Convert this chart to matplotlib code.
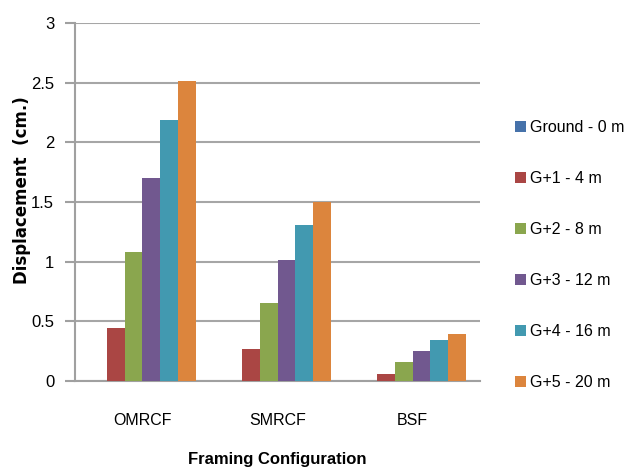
import matplotlib.pyplot as plt
import numpy as np

plt.rcParams['font.family'] = ['Liberation Sans', 'DejaVu Sans']

categories = ['OMRCF', 'SMRCF', 'BSF']
series_labels = ['Ground - 0 m', 'G+1 - 4 m', 'G+2 - 8 m',
                 'G+3 - 12 m', 'G+4 - 16 m', 'G+5 - 20 m']
ground = [0.0, 0.0, 0.0]
g1 = [0.44, 0.27, 0.06]
g2 = [1.08, 0.65, 0.16]
g3 = [1.70, 1.01, 0.25]
g4 = [2.19, 1.31, 0.34]
g5 = [2.51, 1.50, 0.39]
yticks = [0, 0.5, 1, 1.5, 2, 2.5, 3]
ytick_labels = ['0', '0.5', '1', '1.5', '2', '2.5', '3']

colors = ['#4672AA', '#AA4644', '#8AA64E', '#71588F', '#4299B0', '#DC853D']
series = [ground, g1, g2, g3, g4, g5]

fig = plt.figure(figsize=(6.27, 4.73), dpi=100)
ax = fig.add_axes([0.1196, 0.1945, 0.6460, 0.7569])

x = np.arange(len(categories))
width = 0.1327
for i, (vals, lab, col) in enumerate(zip(series, series_labels, colors)):
    ax.bar(x + (i - 2.5) * width, vals, width, color=col, label=lab,
           edgecolor='none', zorder=3)

ax.set_xlim(-0.5, 2.5)
ax.set_ylim(0, 3)
ax.set_yticks(yticks)
ax.set_yticklabels(ytick_labels, fontsize=12)
ax.set_xticks(x)
ax.set_xticklabels(categories, fontsize=11.5)
ax.tick_params(axis='x', length=0, pad=23)
ax.tick_params(axis='y', length=7, color='#a0a0a0', width=1.5, pad=8)
ax.grid(axis='y', color='#a6a6a6', linewidth=1.5, zorder=0)

for side in ['top', 'right']:
    ax.spines[side].set_visible(False)
for side in ['left', 'bottom']:
    ax.spines[side].set_color('#a0a0a0')
    ax.spines[side].set_linewidth(1.5)

ax.set_xlabel('Framing Configuration', fontsize=12, fontweight='bold', labelpad=17)
fig.text(0.035, 0.598, 'Displacement  (cm.)', rotation=90, fontsize=12,
         fontweight='bold', family='DejaVu Sans', ha='center', va='center')

ax.legend(loc='upper left', bbox_to_anchor=(0.808, 0.763), bbox_transform=fig.transFigure,
          frameon=False, fontsize=11.5, handlelength=0.7, handleheight=0.7,
          handletextpad=0.25, labelspacing=2.25, borderpad=0)

fig.savefig('out.png', dpi=100)
